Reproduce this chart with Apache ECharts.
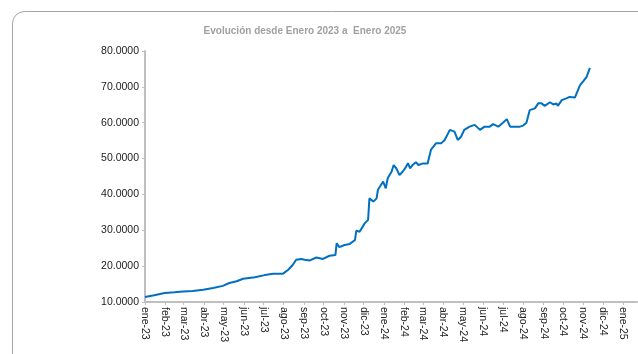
<!DOCTYPE html>
<html>
<head>
<meta charset="utf-8">
<script src="https://cdn.jsdelivr.net/npm/echarts@6/dist/echarts.min.js"></script>
<style>
  html, body { margin: 0; padding: 0; background: #ffffff; }
  #chart { width: 638px; height: 354px; }
</style>
</head>
<body>
<div id="chart"></div>
<script>
// Chart title
const titleText = 'Evolución desde Enero 2023 a  Enero 2025';

// Spanish month abbreviations used for the date axis labels
const monthNames = ['ene', 'feb', 'mar', 'abr', 'may', 'jun', 'jul', 'ago', 'sep', 'oct', 'nov', 'dic'];

// Y axis range and step
const yMin = 10;
const yMax = 80;
const yStep = 10;

// Date axis range
const xStart = '2023-01-01';
const xEnd = '2025-01-22';

// Observation dates
const dates = [
  '2023-01-01', '2023-01-15', '2023-01-31', '2023-02-15', '2023-02-28', '2023-03-15',
  '2023-03-31', '2023-04-15', '2023-04-30', '2023-05-10', '2023-05-21', '2023-05-31',
  '2023-06-18', '2023-07-03', '2023-07-16', '2023-07-31', '2023-08-08', '2023-08-15',
  '2023-08-20', '2023-08-28', '2023-09-02', '2023-09-10', '2023-09-20', '2023-09-30',
  '2023-10-10', '2023-10-19', '2023-10-21', '2023-10-25', '2023-11-02', '2023-11-10',
  '2023-11-18', '2023-11-20', '2023-11-25', '2023-12-03', '2023-12-08', '2023-12-10',
  '2023-12-16', '2023-12-21', '2023-12-23', '2023-12-26', '2023-12-31', '2024-01-04',
  '2024-01-07', '2024-01-13', '2024-01-16', '2024-01-20', '2024-01-25', '2024-01-30',
  '2024-02-04', '2024-02-07', '2024-02-10', '2024-02-14', '2024-02-19', '2024-02-23',
  '2024-02-29', '2024-03-08', '2024-03-13', '2024-03-21', '2024-03-29', '2024-04-03',
  '2024-04-11', '2024-04-18', '2024-04-23', '2024-04-28', '2024-05-03', '2024-05-11',
  '2024-05-19', '2024-05-27', '2024-06-03', '2024-06-11', '2024-06-16', '2024-06-24',
  '2024-07-01', '2024-07-07', '2024-07-12', '2024-07-22', '2024-07-27', '2024-08-01',
  '2024-08-06', '2024-08-11', '2024-08-19', '2024-08-24', '2024-08-29', '2024-09-03',
  '2024-09-11', '2024-09-16', '2024-09-21', '2024-09-23', '2024-09-29', '2024-10-06',
  '2024-10-11', '2024-10-19', '2024-10-27', '2024-11-01', '2024-11-06', '2024-11-11'
];

// Values for each date
const values = [
  11.4, 11.9, 12.5, 12.7, 12.9, 13.1,
  13.4, 13.9, 14.5, 15.3, 15.8, 16.5,
  16.9, 17.5, 17.9, 17.9, 19.0, 20.4,
  21.8, 22.0, 21.8, 21.6, 22.4, 22.0,
  22.9, 23.1, 26.4, 25.3, 25.9, 26.2,
  27.3, 29.9, 29.6, 32.0, 32.9, 38.9,
  38.0, 38.9, 41.3, 41.7, 43.6, 41.7,
  44.5, 46.4, 48.2, 47.3, 45.4, 46.4,
  47.7, 48.7, 47.3, 48.2, 49.0, 48.2,
  48.6, 48.6, 52.4, 54.3, 54.3, 55.2,
  58.0, 57.5, 55.2, 56.1, 58.0, 58.9,
  59.4, 58.0, 58.9, 58.9, 59.6, 58.9,
  60.0, 61.0, 58.9, 58.9, 58.9, 59.2,
  60.0, 63.5, 64.0, 65.4, 65.4, 64.7,
  65.7, 65.1, 65.4, 64.7, 66.3, 66.8,
  67.2, 67.0, 70.5, 71.6, 72.8, 75.3
];

const seriesData = dates.map((d, i) => [d, values[i]]);

const DAY = 24 * 3600 * 1000;
const chart = echarts.init(document.getElementById('chart'), null, { renderer: 'canvas' });

chart.setOption({
  animation: false,
  backgroundColor: '#ffffff',
  graphic: [
    {
      type: 'rect',
      silent: true,
      shape: { x: 12.5, y: 11.5, width: 700, height: 400, r: 12 },
      style: { fill: 'none', stroke: '#a6a6a6', lineWidth: 1 },
      z: -1
    }
  ],
  title: {
    text: titleText,
    left: 300,
    textAlign: 'center',
    top: 21,
    textStyle: {
      fontFamily: 'Liberation Sans, Arial, sans-serif',
      fontSize: 10,
      fontWeight: 'bold',
      color: '#a0a0a0'
    }
  },
  grid: { left: 145, right: 1, top: 51, bottom: 52, containLabel: false },
  xAxis: {
    type: 'time',
    min: xStart,
    max: xEnd,
    minInterval: 28 * DAY,
    maxInterval: 31 * DAY,
    splitNumber: 25,
    axisLine: { show: true, lineStyle: { color: '#bfbfbf', width: 2 } },
    axisTick: { show: true, length: 3, lineStyle: { color: '#bfbfbf', width: 1 } },
    splitLine: { show: false },
    axisLabel: {
      rotate: -90,
      margin: 5,
      fontFamily: 'Liberation Sans, Arial, sans-serif',
      fontSize: 10.5,
      color: '#222222',
      hideOverlap: false,
      showMinLabel: true,
      formatter: function (val) {
        const d = new Date(val);
        const yy = String(d.getFullYear()).slice(2);
        return monthNames[d.getMonth()] + '-' + yy;
      }
    }
  },
  yAxis: {
    type: 'value',
    min: yMin,
    max: yMax,
    interval: yStep,
    axisLine: { show: true, lineStyle: { color: '#bfbfbf', width: 2 } },
    axisTick: { show: true, length: 3, lineStyle: { color: '#bfbfbf', width: 1 } },
    splitLine: { show: false },
    axisLabel: {
      margin: 6,
      fontFamily: 'Liberation Sans, Arial, sans-serif',
      fontSize: 10.5,
      color: '#222222',
      formatter: function (v) { return v.toFixed(4); }
    }
  },
  series: [
    {
      type: 'line',
      data: seriesData,
      showSymbol: false,
      smooth: false,
      lineStyle: { color: '#0070C0', width: 2 },
      itemStyle: { color: '#0070C0' }
    }
  ]
});
</script>
</body>
</html>
